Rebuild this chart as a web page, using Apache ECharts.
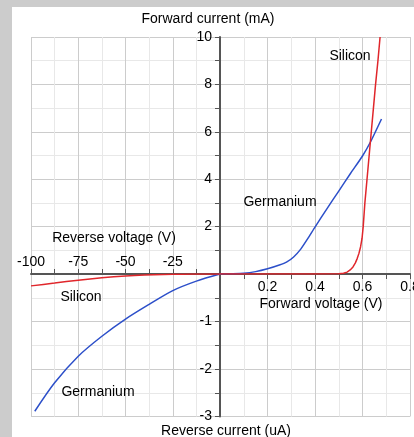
<!DOCTYPE html>
<html>
<head>
<meta charset="utf-8">
<script src="https://cdn.jsdelivr.net/npm/echarts@6/dist/echarts.min.js"></script>
<style>
  html, body { margin: 0; padding: 0; background: #cccccc; overflow: hidden; }
  #chart { position: absolute; left: 0; top: 0; width: 414px; height: 437px; }
</style>
</head>
<body>
<div id="chart"></div>
<script>
// ---- Data (real units) ----
// Forward region: voltage in V, current in mA
const siliconFwdV = [0, 0.1, 0.2, 0.3, 0.4, 0.5, 0.52, 0.535, 0.548, 0.56, 0.57, 0.578, 0.585, 0.592, 0.598, 0.603, 0.61, 0.619, 0.628, 0.637, 0.646, 0.655, 0.665, 0.674];
const siliconFwdI = [0, 0, 0, 0, 0, 0.01, 0.03, 0.08, 0.17, 0.3, 0.47, 0.66, 0.87, 1.15, 1.5, 2.0, 3.0, 4.0, 5.0, 6.0, 7.0, 8.0, 9.0, 10.0];
const germFwdV = [0, 0.05, 0.1, 0.15, 0.2, 0.25, 0.28, 0.31, 0.34, 0.37, 0.4, 0.45, 0.5, 0.55, 0.6, 0.634, 0.68];
const germFwdI = [0, 0.01, 0.03, 0.1, 0.22, 0.38, 0.5, 0.72, 1.05, 1.5, 1.98, 2.75, 3.5, 4.25, 4.98, 5.58, 6.54];
// Reverse region: voltage in V, current in uA
const siliconRevV = [-100, -87.5, -75, -62.5, -50, -40, -30, -20, -10, 0];
const siliconRevI = [-0.25, -0.19, -0.13, -0.08, -0.04, -0.02, -0.01, -0.005, 0, 0];
const germRevV = [-98, -87.5, -75, -62.5, -50, -37.5, -25, -12.5, 0];
const germRevI = [-2.89, -2.29, -1.73, -1.31, -0.95, -0.64, -0.35, -0.15, 0];

// Axis ranges / tick steps
const fwdVRange = [0, 0.8], fwdVStep = 0.2;
const revVRange = [-100, 0], revVStep = 25;
const fwdIRange = [0, 10], fwdIStep = 2;
const revIRange = [-3, 0], revIStep = 1;

const labels = {
  yTop: 'Forward current (mA)',
  yBottom: 'Reverse current (uA)',
  xLeft: 'Reverse voltage (V)',
  xRight: 'Forward voltage (V)',
  si: 'Silicon',
  ge: 'Germanium'
};

// ---- Build options ----
const pair = (xs, ys) => xs.map((x, i) => [x, ys[i]]);
const FONT = 'Liberation Sans, Arial, sans-serif';
const AXIS_COLOR = '#555555';
const MAJOR = '#cccccc';
const MINOR = '#e8e8e8';
const RED = '#e0262b';
const BLUE = '#2c4fc9';

const L = 31, X0 = 220, R = 410, T = 37, Y0 = 274, B = 416.5;
const gridBase = { containLabel: false, outerBoundsMode: 'none' };
const grids = [
  Object.assign({ left: L,  top: T,  width: X0 - L, height: Y0 - T }, gridBase),  // TL
  Object.assign({ left: X0, top: T,  width: R - X0, height: Y0 - T }, gridBase),  // TR
  Object.assign({ left: L,  top: Y0, width: X0 - L, height: B - Y0 }, gridBase),  // BL
  Object.assign({ left: X0, top: Y0, width: R - X0, height: B - Y0 }, gridBase)   // BR
];

function gridLinesOnly(extra) {
  return Object.assign({
    type: 'value',
    axisLine: { show: false },
    axisTick: { show: false },
    axisLabel: { show: false },
    splitLine: { show: true, lineStyle: { color: MAJOR, width: 1 } },
    minorTick: { show: false, splitNumber: 2 },
    minorSplitLine: { show: true, lineStyle: { color: MINOR, width: 1 } }
  }, extra);
}
function visibleAxis(extra, labelExtra) {
  return Object.assign({
    type: 'value',
    axisLine: { show: true, onZero: false, lineStyle: { color: AXIS_COLOR, width: 2 } },
    axisTick: { show: true, length: 5, lineStyle: { color: AXIS_COLOR, width: 1 } },
    minorTick: { show: true, splitNumber: 2, length: 5, lineStyle: { color: AXIS_COLOR, width: 1 } },
    axisLabel: Object.assign({ show: true, color: '#000', fontSize: 14, fontFamily: FONT, margin: 6 }, labelExtra),
    splitLine: { show: true, lineStyle: { color: MAJOR, width: 1 } },
    minorSplitLine: { show: true, lineStyle: { color: MINOR, width: 1 } }
  }, extra);
}

const xAxis = [
  gridLinesOnly({ gridIndex: 0, min: revVRange[0], max: revVRange[1], interval: revVStep }),
  visibleAxis({ gridIndex: 1, position: 'bottom', min: fwdVRange[0], max: fwdVRange[1], interval: fwdVStep },
              { showMinLabel: false, margin: 6 }),
  visibleAxis({ gridIndex: 2, position: 'top', min: revVRange[0], max: revVRange[1], interval: revVStep },
              { showMaxLabel: false, margin: 5 }),
  gridLinesOnly({ gridIndex: 3, min: fwdVRange[0], max: fwdVRange[1], interval: fwdVStep })
];
const yAxis = [
  gridLinesOnly({ gridIndex: 0, min: fwdIRange[0], max: fwdIRange[1], interval: fwdIStep }),
  visibleAxis({ gridIndex: 1, position: 'left', min: fwdIRange[0], max: fwdIRange[1], interval: fwdIStep },
              { showMinLabel: false, margin: 8 }),
  gridLinesOnly({ gridIndex: 2, min: revIRange[0], max: revIRange[1], interval: revIStep }),
  visibleAxis({ gridIndex: 3, position: 'left', min: revIRange[0], max: revIRange[1], interval: revIStep },
              { showMaxLabel: false, margin: 8 })
];

function line(name, data, idx, color, smooth) {
  return {
    name, type: 'line', data, xAxisIndex: idx, yAxisIndex: idx,
    showSymbol: false, symbol: 'none', smooth: smooth,
    lineStyle: { color, width: 1.5 }, z: 5, animation: false
  };
}
const series = [
  line(labels.ge + ' fwd', pair(germFwdV, germFwdI), 1, BLUE, 0.2),
  line(labels.si + ' fwd', pair(siliconFwdV, siliconFwdI), 1, RED, false),
  line(labels.ge + ' rev', pair(germRevV, germRevI), 2, BLUE, 0.3),
  line(labels.si + ' rev', pair(siliconRevV, siliconRevI), 2, RED, 0.2)
];

function txt(text, x, y) {
  return { type: 'text', x, y, z: 100, silent: true,
    style: { text, fill: '#000', font: '14px ' + FONT, align: 'center', verticalAlign: 'middle' } };
}
const graphic = [
  { type: 'rect', z: -10, silent: true, shape: { x: 12, y: 7, width: 402, height: 430 }, style: { fill: '#ffffff' } },
  txt(labels.yTop, 208, 19),
  txt(labels.yBottom, 226, 431),
  txt(labels.xLeft, 114, 238),
  txt(labels.xRight, 321, 304),
  txt(labels.si, 350, 56),
  txt(labels.ge, 280, 202),
  txt(labels.si, 81, 297),
  txt(labels.ge, 98, 392)
];

const chart = echarts.init(document.getElementById('chart'), null, { renderer: 'canvas' });
chart.setOption({
  animation: false,
  backgroundColor: '#cccccc',
  textStyle: { fontFamily: FONT },
  grid: grids,
  xAxis, yAxis, series, graphic
});
</script>
</body>
</html>
